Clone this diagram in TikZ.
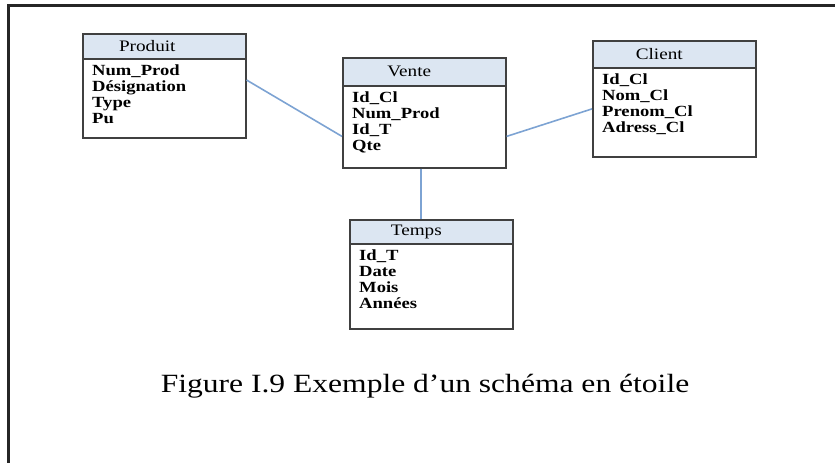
\documentclass[tikz,border=0pt]{standalone}
\usepackage{fontspec}
\setmainfont[FakeStretch=1.2]{Liberation Serif}
\usetikzlibrary{calc,positioning}
\definecolor{hdr}{HTML}{DCE6F2}
\definecolor{lnk}{HTML}{7DA3D3}
\definecolor{edge}{HTML}{404040}
\tikzset{
  tbl/.style={draw=edge,line width=1.6pt,fill=white,minimum width=163pt,anchor=north west,inner sep=0pt},
  thead/.style={draw=edge,line width=1.6pt,fill=hdr,minimum width=163pt,anchor=north west,inner sep=0pt},
  ttl/.style={inner sep=0pt,font=\fontsize{16}{16}\selectfont},
  attr/.style={anchor=base west,inner sep=0pt,font=\fontsize{15.5}{16}\selectfont\bfseries},
  link/.style={draw=lnk,line width=1.6pt},
}

\begin{document}
\begin{tikzpicture}[x=1pt,y=-1pt]
\useasboundingbox (0,0) rectangle (835,463);
% page frame
\draw[black!85,line width=3pt] (835,5) -- (8,5) -- (8,463);
% Produit
\node[tbl,minimum height=104pt] (produit) at (82,33) {};
\node[thead,minimum height=25pt] (produitH) at (produit.north west) {};
\node[ttl] (produitT) at ($(produitH.center)+(-17,0)$) {Produit};
\foreach \t [count=\i] in {Num\_Prod,Désignation,Type,Pu}
  \node[attr] (produit-\i) at ($(produitH.south west)+(10,16*\i)$) {\t};
% Vente
\node[tbl,minimum height=110pt] (vente) at (342,57) {};
\node[thead,minimum height=28pt] (venteH) at (vente.north west) {};
\node[ttl] (venteT) at ($(venteH.center)+(-15,0)$) {Vente};
\foreach \t [count=\i] in {Id\_Cl,Num\_Prod,Id\_T,Qte}
  \node[attr] (vente-\i) at ($(venteH.south west)+(10,16*\i)$) {\t};
% Client
\node[tbl,minimum height=116pt] (client) at (592,40) {};
\node[thead,minimum height=27pt] (clientH) at (client.north west) {};
\node[ttl] (clientT) at ($(clientH.center)+(-15,0)$) {Client};
\foreach \t [count=\i] in {Id\_Cl,Nom\_Cl,Prenom\_Cl,Adress\_Cl}
  \node[attr] (client-\i) at ($(clientH.south west)+(10,16*\i)$) {\t};
% Temps
\node[tbl,minimum height=109pt] (temps) at (349,219) {};
\node[thead,minimum height=24pt] (tempsH) at (temps.north west) {};
\node[ttl] (tempsT) at ($(tempsH.center)+(-15,0)$) {Temps};
\foreach \t [count=\i] in {Id\_T,Date,Mois,Années}
  \node[attr] (temps-\i) at ($(tempsH.south west)+(10,16*\i)$) {\t};
% liens
\draw[link] (produit.4) -- (vente.196);
\draw[link] (vente.344) -- (client.187);
\draw[link,line width=2pt] ($(vente.south)+(-3.5,0)$) -- ($(temps.north)+(-10.5,0)$);
% legende
\node[anchor=base,inner sep=0pt,font=\fontsize{26.3}{30}\selectfont] (caption) at (425,392) {Figure I.9 Exemple d’un schéma en étoile};
\end{tikzpicture}
\end{document}
